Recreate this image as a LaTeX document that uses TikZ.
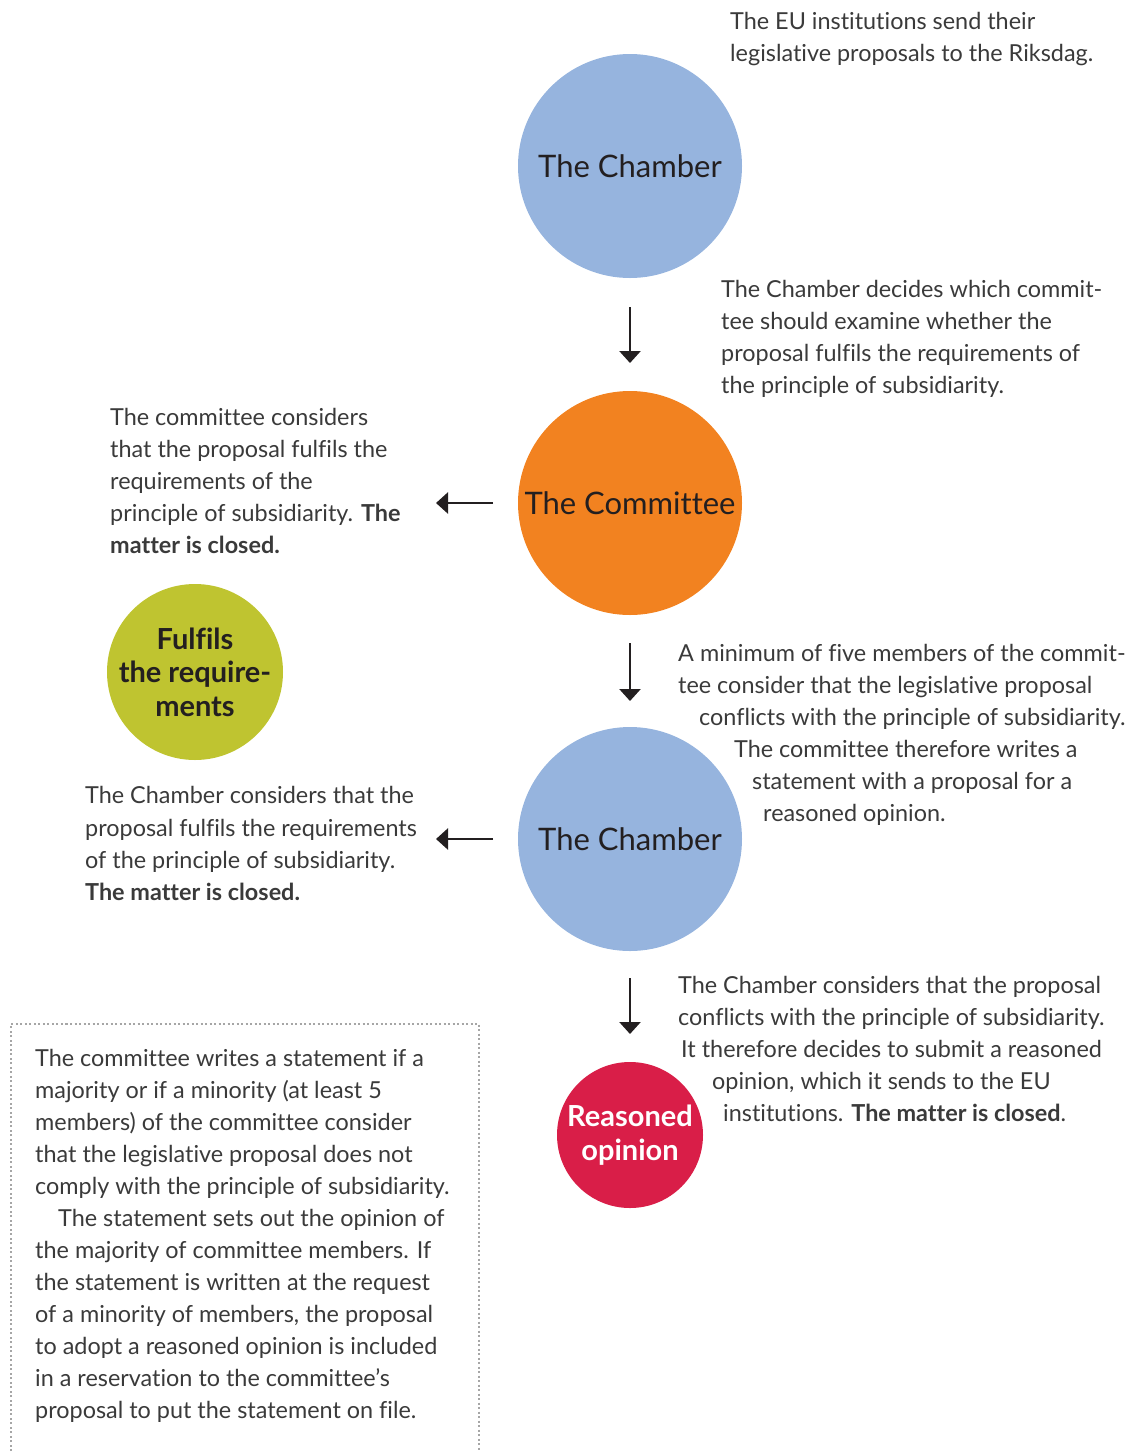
\documentclass[tikz,border=0pt]{standalone}
\usepackage{fontspec}
\setmainfont{Lato}[Ligatures=NoCommon]
\usetikzlibrary{arrows.meta}
\definecolor{cblue}{HTML}{96B4DE}
\definecolor{corange}{HTML}{F28220}
\definecolor{cgreen}{HTML}{BFC430}
\definecolor{cred}{HTML}{D91E48}
\definecolor{ink}{HTML}{231F20}
\definecolor{txt}{HTML}{3A3A3A}
\begin{document}
\begin{tikzpicture}[x=1pt,y=-1pt,
  circ/.style={circle,minimum size=#1,inner sep=0pt,align=center},
  bigl/.style={font=\fontsize{31}{36}\selectfont,text=ink},
  smallc/.style={font=\fontsize{29}{33.5}\selectfont\bfseries,text=ink},
  ln/.style={anchor=base west,inner sep=0pt,text=txt,font=\fontsize{23.4}{32}\selectfont},
  arr/.style={draw=ink,line width=2.6pt,-{Triangle[length=12pt,width=21pt]}}]
\useasboundingbox (0,0) rectangle (1142,1452);
% circles
\node[circ=224pt,fill=cblue,bigl] (ch1) at (630,166) {The Chamber};
\node[circ=224pt,fill=corange,bigl] (com) at (630,503) {The Committee};
\node[circ=224pt,fill=cblue,bigl] (ch2) at (630,839) {The Chamber};
\node[circ=176pt,fill=cgreen,smallc] (ful) at (195,672) {Fulfils\\the require-\\ments};
\node[circ=146pt,fill=cred,smallc,text=white] (rea) at (630,1135) {Reasoned\\opinion};
% arrow anchors
\coordinate (a1s) at (630,307); \coordinate (a1e) at (630,363);
\coordinate (a2s) at (630,643); \coordinate (a2e) at (630,701);
\coordinate (a3s) at (630,978); \coordinate (a3e) at (630,1034);
\coordinate (l1s) at (493,503); \coordinate (l1e) at (436,503);
\coordinate (l2s) at (493,839); \coordinate (l2e) at (436,839);
\draw[arr] (a1s) -- (a1e);
\draw[arr] (a2s) -- (a2e);
\draw[arr] (a3s) -- (a3e);
\draw[arr] (l1s) -- (l1e);
\draw[arr] (l2s) -- (l2e);
% top text
\node[ln] (t1a) at (730,29) {The EU institutions send their};
\node[ln] (t1b) at (730,61) {legislative proposals to the Riksdag.};
% text 2
\node[ln] (t2a) at (721,297) {The Chamber decides which commit-};
\node[ln] (t2b) at (721,329) {tee should examine whether the};
\node[ln] (t2c) at (721,361) {proposal fulfils the requirements of};
\node[ln] (t2d) at (721,393) {the principle of subsidiarity.};
% text 3
\node[ln] (t3a) at (110,425) {The committee considers};
\node[ln] (t3b) at (110,457) {that the proposal fulfils the};
\node[ln] (t3c) at (110,489) {requirements of the};
\node[ln] (t3d) at (110,521) {principle of subsidiarity. \textbf{The}};
\node[ln] (t3e) at (110,553) {\textbf{matter is closed.}};
% text 4
\node[ln] (t4a) at (678,661) {A minimum of five members of the commit-};
\node[ln] (t4b) at (678,693) {tee consider that the legislative proposal};
\node[ln] (t4c) at (699,725) {conflicts with the principle of subsidiarity.};
\node[ln] (t4d) at (734,757) {The committee therefore writes a};
\node[ln] (t4e) at (752,789) {statement with a proposal for a};
\node[ln] (t4f) at (763,821) {reasoned opinion.};
% text 5
\node[ln] (t5a) at (85,803) {The Chamber considers that the};
\node[ln] (t5b) at (85,836) {proposal fulfils the requirements};
\node[ln] (t5c) at (85,868) {of the principle of subsidiarity.};
\node[ln] (t5d) at (85,900) {\textbf{The matter is closed.}};
% text 6
\node[ln] (t6a) at (678,993) {The Chamber considers that the proposal};
\node[ln] (t6b) at (678,1025) {conflicts with the principle of subsidiarity.};
\node[ln] (t6c) at (681,1057) {It therefore decides to submit a reasoned};
\node[ln] (t6d) at (712,1089) {opinion, which it sends to the EU};
\node[ln] (t6e) at (723,1121) {institutions. \textbf{The matter is closed}.};
% dotted box
\coordinate (bx1) at (11,1460); \coordinate (bx2) at (11,1024);
\coordinate (bx3) at (479,1024); \coordinate (bx4) at (479,1460);
\draw[draw=gray!70,line width=2pt,dash pattern=on 2pt off 2.5pt] (bx1) -- (bx2) -- (bx3) -- (bx4);
\node[ln] (b1) at (35,1066) {The committee writes a statement if a};
\node[ln] (b2) at (35,1098) {majority or if a minority (at least 5};
\node[ln] (b3) at (35,1130) {members) of the committee consider};
\node[ln] (b4) at (35,1162) {that the legislative proposal does not};
\node[ln] (b5) at (35,1194) {comply with the principle of subsidiarity.};
\node[ln] (b6) at (58,1226) {The statement sets out the opinion of};
\node[ln] (b7) at (35,1258) {the majority of committee members. If};
\node[ln] (b8) at (35,1290) {the statement is written at the request};
\node[ln] (b9) at (35,1322) {of a minority of members, the proposal};
\node[ln] (b10) at (35,1354) {to adopt a reasoned opinion is included};
\node[ln] (b11) at (35,1386) {in a reservation to the committee’s};
\node[ln] (b12) at (35,1418) {proposal to put the statement on file.};
\end{tikzpicture}
\end{document}
